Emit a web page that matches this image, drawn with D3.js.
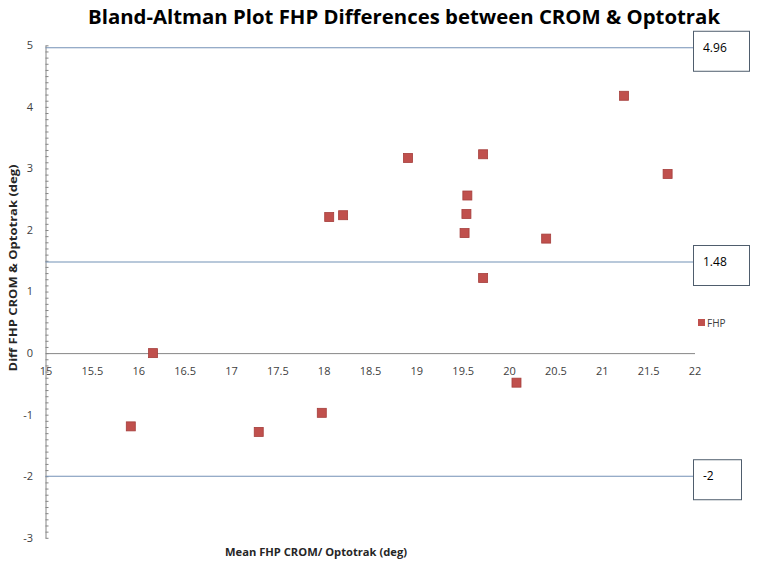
<!DOCTYPE html>
<html>
<head>
<meta charset="utf-8">
<script src="https://cdn.jsdelivr.net/npm/d3@7"></script>
<style>
  body { margin: 0; background: #fff; }
  svg text { font-family: "Open Sans", "Liberation Sans", sans-serif; }
</style>
</head>
<body>
<svg id="chart" width="757" height="566"></svg>
<script>
// mean of CROM & Optotrak (deg)
const meanVals = [15.92, 16.16, 17.30, 17.98, 18.06, 18.21, 18.91, 19.52,
                  19.54, 19.55, 19.72, 19.72, 20.08, 20.40, 21.24, 21.71];
// difference CROM - Optotrak (deg)
const diffVals = [-1.19, 0.00, -1.28, -0.97, 2.21, 2.24, 3.17, 1.95,
                  2.26, 2.56, 3.23, 1.22, -0.48, 1.86, 4.18, 2.91];
// upper limit, mean, lower limit
const limitVals = [4.96, 1.48, -2];
const limitLabels = ["4.96", "1.48", "-2"];
const xTicks = [15, 15.5, 16, 16.5, 17, 17.5, 18, 18.5, 19, 19.5, 20, 20.5, 21, 21.5, 22];
const yTicks = [5, 4, 3, 2, 1, 0, -1, -2, -3];

const svg = d3.select("#chart");

const x = d3.scaleLinear().domain([15, 22]).range([45.5, 694.5]);
const y = d3.scaleLinear().domain([-3, 5]).range([537.8, 45.3]);

// title
svg.append("text")
  .attr("x", 404).attr("y", 24)
  .attr("text-anchor", "middle")
  .attr("font-size", 19).attr("font-weight", "bold")
  .attr("fill", "#000")
  .attr("textLength", 632).attr("lengthAdjust", "spacingAndGlyphs")
  .text("Bland-Altman Plot FHP Differences between CROM & Optotrak");

// y axis line + minor ticks (inside)
const yAxis = d3.axisRight(y)
  .tickValues(d3.range(-30, 51).map(d => d / 10))
  .tickSize(3)
  .tickSizeOuter(0)
  .tickFormat("");
const yg = svg.append("g").attr("transform", `translate(${x(15)},0)`).call(yAxis);
yg.select(".domain").attr("stroke", "#868686");
yg.selectAll(".tick line").attr("stroke", "#868686");

// y tick labels
svg.append("g").selectAll("text")
  .data(yTicks)
  .enter().append("text")
  .attr("x", 33)
  .attr("y", d => y(d))
  .attr("dy", "0.35em")
  .attr("text-anchor", "end")
  .attr("font-size", 11)
  .attr("fill", "#404040")
  .text(d => d);

// x axis on zero line
const xAxis = d3.axisBottom(x)
  .tickValues(xTicks)
  .tickSize(0)
  .tickPadding(14)
  .tickFormat(d => d);
const xg = svg.append("g").attr("transform", `translate(0,${y(0)})`).call(xAxis);
xg.select(".domain").attr("stroke", "#868686");
xg.selectAll(".tick text")
  .attr("font-size", 11)
  .attr("fill", "#404040")
  .attr("font-family", "'Open Sans', 'Liberation Sans', sans-serif");

// limit lines with boxes
const boxW = [56, 56, 48];
const lim = svg.append("g");
limitVals.forEach((v, i) => {
  lim.append("line")
    .attr("x1", x(15)).attr("x2", 693)
    .attr("y1", y(v)).attr("y2", y(v))
    .attr("stroke", "#7391b6").attr("stroke-width", 1.2);
  lim.append("rect")
    .attr("x", 693.5).attr("y", y(v) - 16.5)
    .attr("width", boxW[i]).attr("height", 40)
    .attr("fill", "#fff")
    .attr("stroke", "#4f5d6d").attr("stroke-width", 1);
  lim.append("text")
    .attr("x", 703).attr("y", y(v))
    .attr("dy", "0.35em")
    .attr("font-size", 12)
    .attr("fill", "#000")
    .text(limitLabels[i]);
});

// points
const pts = meanVals.map((m, i) => ({ m, d: diffVals[i] }));
svg.append("g").selectAll("rect")
  .data(pts)
  .enter().append("rect")
  .attr("x", p => x(p.m) - 4.5)
  .attr("y", p => y(p.d) - 4.5)
  .attr("width", 9).attr("height", 9)
  .attr("fill", "#c0504d")
  .attr("stroke", "#a53e3b").attr("stroke-width", 0.8);

// legend
svg.append("rect")
  .attr("x", 698).attr("y", 319)
  .attr("width", 7).attr("height", 7)
  .attr("fill", "#c0504d");
svg.append("text")
  .attr("x", 707).attr("y", 323)
  .attr("dy", "0.35em")
  .attr("font-size", 10)
  .attr("fill", "#404040")
  .text("FHP");

// axis titles
svg.append("text")
  .attr("x", 316).attr("y", 556)
  .attr("text-anchor", "middle")
  .attr("font-size", 11).attr("font-weight", "bold")
  .attr("fill", "#262626")
  .attr("textLength", 182).attr("lengthAdjust", "spacingAndGlyphs")
  .text("Mean FHP CROM/ Optotrak (deg)");

svg.append("text")
  .attr("transform", "translate(17,268) rotate(-90)")
  .attr("text-anchor", "middle")
  .attr("font-size", 11).attr("font-weight", "bold")
  .attr("fill", "#262626")
  .attr("textLength", 207).attr("lengthAdjust", "spacingAndGlyphs")
  .text("Diff FHP CROM & Optotrak (deg)");
</script>
</body>
</html>
